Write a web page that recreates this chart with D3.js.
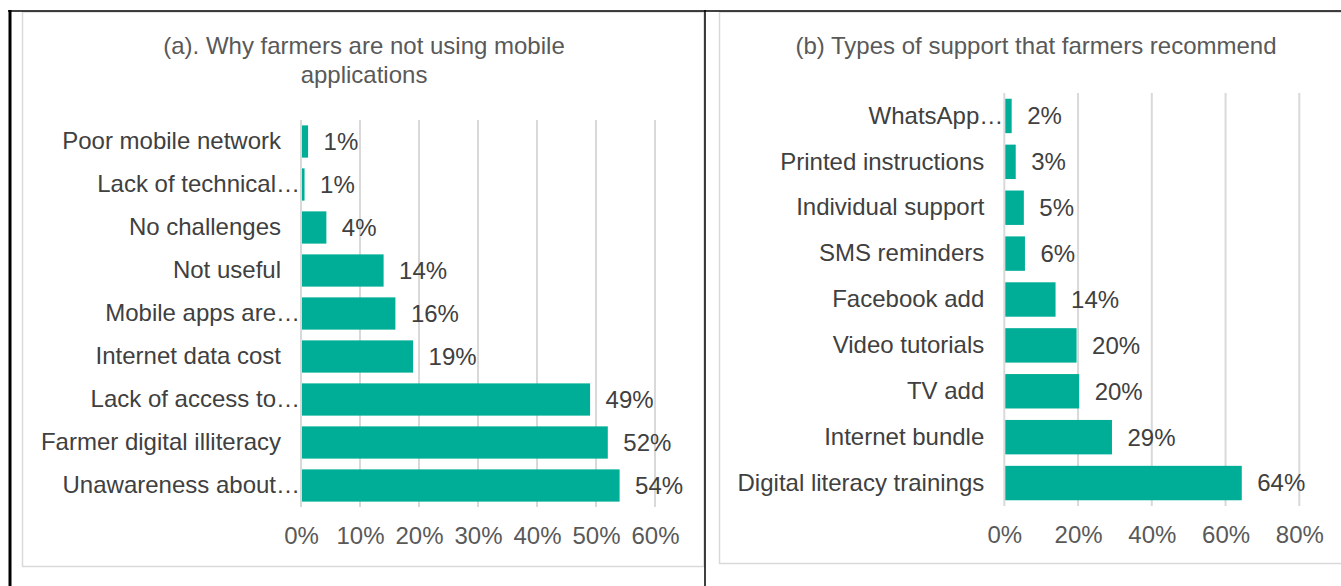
<!DOCTYPE html>
<html>
<head>
<meta charset="utf-8">
<script src="https://cdn.jsdelivr.net/npm/d3@7"></script>
<style>
  body { margin: 0; background: #fff; }
  svg { display: block; font-family: "Liberation Sans", Arial, sans-serif; }
</style>
</head>
<body>
<script>
var Teal = "#00AE97";
var Grid = "#d9d9d9";

// chart (a)
var titleA = ["(a). Why farmers are not using mobile", "applications"];
var catsA = ["Poor mobile network", "Lack of technical\u2026", "No challenges", "Not useful",
  "Mobile apps are\u2026", "Internet data cost", "Lack of access to\u2026",
  "Farmer digital illiteracy", "Unawareness about\u2026"];
var valsA = [1.2, 0.6, 4.3, 14, 16, 19, 49, 52, 54];
var ticksA = [0, 10, 20, 30, 40, 50, 60];

// chart (b)
var titleB = ["(b) Types of support that farmers recommend"];
var catsB = ["WhatsApp\u2026", "Printed instructions", "Individual support", "SMS reminders",
  "Facebook add", "Video tutorials", "TV add", "Internet bundle", "Digital literacy trainings"];
var valsB = [2.0, 3.1, 5.3, 5.6, 13.9, 19.6, 20.3, 29.2, 64.4];
var ticksB = [0, 20, 40, 60, 80];

var svg = d3.select("body").append("svg")
  .attr("width", 1341)
  .attr("height", 586);

// grey chart frames
svg.append("rect").attr("x", 22.5).attr("y", 12).attr("width", 681.5).attr("height", 554.5)
  .attr("fill", "none").attr("stroke", Grid).attr("stroke-width", 1.5);
svg.append("rect").attr("x", 719.5).attr("y", 12).attr("width", 630).attr("height", 551.5)
  .attr("fill", "none").attr("stroke", Grid).attr("stroke-width", 1.5);

// black table lines
svg.append("line").attr("x1", 8).attr("x2", 1341).attr("y1", 11).attr("y2", 11)
  .attr("stroke", "#000").attr("stroke-width", 1.5);
svg.append("line").attr("x1", 10).attr("x2", 10).attr("y1", 10).attr("y2", 586)
  .attr("stroke", "#000").attr("stroke-width", 3);
svg.append("line").attr("x1", 705).attr("x2", 705).attr("y1", 10).attr("y2", 586)
  .attr("stroke", "#000").attr("stroke-width", 1.5);

function drawChart(opt) {
  var x = d3.scaleLinear().domain([0, opt.max]).range([opt.x0, opt.x1]);
  var y = d3.scaleBand().domain(opt.cats).range([opt.y0, opt.y1])
    .paddingInner(0.25).paddingOuter(0.125);
  var g = svg.append("g");

  // title
  g.append("text")
    .attr("x", opt.tx)
    .attr("y", opt.ty)
    .attr("text-anchor", "middle")
    .attr("font-size", 24)
    .attr("fill", "#595959")
    .selectAll("tspan").data(opt.title).enter()
    .append("tspan")
    .attr("x", opt.tx)
    .attr("dy", (d, i) => i == 0 ? 0 : 28.5)
    .text(d => d);

  // gridlines
  g.selectAll(".grid").data(opt.ticks).enter()
    .append("line")
    .attr("x1", d => x(d)).attr("x2", d => x(d))
    .attr("y1", opt.y0).attr("y2", opt.y1)
    .attr("stroke", Grid)
    .attr("stroke-width", 2);

  // bars
  var data = opt.cats.map((c, i) => ({ c: c, v: opt.vals[i] }));
  g.selectAll(".bar").data(data).enter()
    .append("rect")
    .attr("x", x(0) + 1)
    .attr("y", d => y(d.c))
    .attr("width", d => x(d.v) - x(0) - 1)
    .attr("height", y.bandwidth())
    .attr("fill", Teal);

  // value labels
  g.selectAll(".val").data(data).enter()
    .append("text")
    .attr("x", d => x(d.v) + 15.5)
    .attr("y", d => y(d.c) + y.bandwidth() / 2)
    .attr("dy", "0.35em")
    .attr("font-size", 24)
    .attr("fill", "#404040")
    .text(d => Math.round(d.v) + "%");

  // category axis
  var ay = g.append("g")
    .attr("transform", "translate(" + x(0) + ",0)")
    .call(d3.axisLeft(y).tickSize(0).tickPadding(20));
  ay.select(".domain").remove();
  ay.selectAll("text").attr("font-size", 24).attr("fill", "#404040")
    .attr("font-family", "Liberation Sans, Arial, sans-serif");
  // truncated labels run right up to the axis
  ay.selectAll("text").filter(d => d.endsWith("\u2026")).attr("x", -1);

  // value axis
  var ax = g.append("g")
    .attr("transform", "translate(0," + opt.y1 + ")")
    .call(d3.axisBottom(x).tickValues(opt.ticks).tickSize(0).tickPadding(20)
      .tickFormat(d => d + "%"));
  ax.select(".domain").remove();
  ax.selectAll("text").attr("font-size", 24).attr("fill", "#595959")
    .attr("font-family", "Liberation Sans, Arial, sans-serif");
}

drawChart({ cats: catsA, vals: valsA, ticks: ticksA, max: 60, title: titleA,
  x0: 301, x1: 655, y0: 120, y1: 507, tx: 364, ty: 54 });
drawChart({ cats: catsB, vals: valsB, ticks: ticksB, max: 80, title: titleB,
  x0: 1004.3, x1: 1299.3, y0: 93, y1: 506, tx: 1036, ty: 54 });
</script>
</body>
</html>
